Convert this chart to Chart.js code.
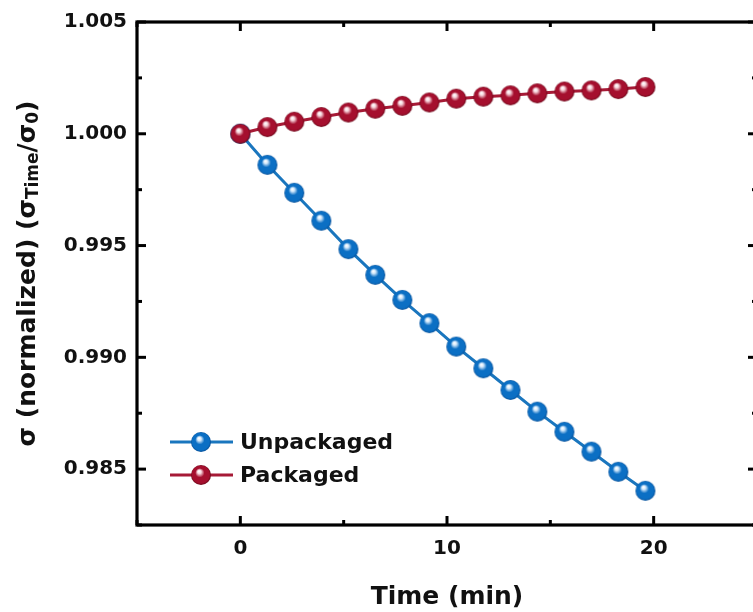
<!DOCTYPE html>
<html>
<head>
<meta charset="utf-8">
<script src="https://cdn.jsdelivr.net/npm/chart.js@4.4.1/dist/chart.umd.min.js"></script>
<style>
  html, body { margin: 0; padding: 0; background: #ffffff; overflow: hidden; }
  #wrap { position: absolute; left: 0; top: 0; width: 770px; height: 612px; }
</style>
</head>
<body>
<div id="wrap"><canvas id="c" width="770" height="612"></canvas></div>
<script>
// ---- data ----
const timeMin = [0, 1.31, 2.61, 3.92, 5.23, 6.53, 7.84, 9.15, 10.45, 11.76, 13.07, 14.37, 15.68, 16.99, 18.29, 19.6];
const unpackaged = [1.00000, 0.99861, 0.99736, 0.99611, 0.99484, 0.99369, 0.99257, 0.99153, 0.99048, 0.98951, 0.98854, 0.98757, 0.98667, 0.98578, 0.98488, 0.98403];
const packaged = [1.00000, 1.00030, 1.00054, 1.00075, 1.00095, 1.00112, 1.00125, 1.00140, 1.00157, 1.00166, 1.00172, 1.00181, 1.00189, 1.00194, 1.00200, 1.00209];
const seriesNames = ['Unpackaged', 'Packaged'];
const xMajorTicks = [0, 10, 20];
const xMinorTicks = [-5, 5, 15, 25];
const yMajorTicks = [0.985, 0.990, 0.995, 1.000, 1.005];
const yMinorTicks = [0.9825, 0.9875, 0.9925, 0.9975, 1.0025];
const xTitle = 'Time (min)';

const FONT = '"DejaVu Sans", "Liberation Sans", Arial, sans-serif';
const BLUE = { line: '#1A76BE', base: '#0B6FC4', dark: '#064E96', light: '#D2E8FB' };
const RED = { line: '#A61A36', base: '#A50F2E', dark: '#6A0819', light: '#F7D6DD' };

function sphere(col, r) {
  const s = Math.ceil(2 * r + 2);
  const cv = document.createElement('canvas');
  cv.width = s; cv.height = s;
  const g = cv.getContext('2d');
  const c = s / 2;
  const grad = g.createRadialGradient(c - r * 0.2, c - r * 0.38, r * 0.04, c, c, r);
  grad.addColorStop(0, '#ffffff');
  grad.addColorStop(0.16, col.light);
  grad.addColorStop(0.44, col.base);
  grad.addColorStop(0.85, col.base);
  grad.addColorStop(1, col.dark);
  g.fillStyle = grad;
  g.beginPath(); g.arc(c, c, r, 0, Math.PI * 2); g.fill();
  return cv;
}
const blueBall = sphere(BLUE, 10);
const redBall = sphere(RED, 10);

function pts(ys) { return timeMin.map((t, i) => ({ x: t, y: ys[i] })); }

const framePlugin = {
  id: 'frame',
  afterDraw(chart) {
    const { ctx, chartArea: a, scales } = chart;
    const xs = scales.x, ys = scales.y;
    ctx.save();
    ctx.strokeStyle = '#000'; ctx.lineWidth = 3; ctx.lineCap = 'butt';
    const tick = (x1, y1, x2, y2) => { ctx.beginPath(); ctx.moveTo(x1, y1); ctx.lineTo(x2, y2); ctx.stroke(); };
    xMajorTicks.forEach(v => { const p = xs.getPixelForValue(v); tick(p, a.bottom, p, a.bottom - 9); tick(p, a.top, p, a.top + 9); });
    xMinorTicks.forEach(v => { const p = xs.getPixelForValue(v); tick(p, a.bottom, p, a.bottom - 5); tick(p, a.top, p, a.top + 5); });
    yMajorTicks.forEach(v => { const p = ys.getPixelForValue(v); tick(a.left, p, a.left + 9, p); tick(a.right, p, a.right - 9, p); });
    yMinorTicks.forEach(v => { const p = ys.getPixelForValue(v); tick(a.left, p, a.left + 5, p); tick(a.right, p, a.right - 5, p); });
    ctx.lineWidth = 3.2;
    ctx.strokeRect(a.left, a.top, a.right - a.left, a.bottom - a.top);

    // legend
    const items = [
      { label: seriesNames[0], col: BLUE.line, ball: blueBall },
      { label: seriesNames[1], col: RED.line, ball: redBall }
    ];
    ctx.font = 'bold 22px ' + FONT;
    ctx.textBaseline = 'middle'; ctx.textAlign = 'left'; ctx.fillStyle = '#111';
    items.forEach((it, i) => {
      const y = a.top + 420 + i * 33;
      const x0 = a.left + 33;
      ctx.strokeStyle = it.col; ctx.lineWidth = 3;
      tick(x0, y, x0 + 63, y);
      ctx.drawImage(it.ball, x0 + 31 - it.ball.width / 2, y - it.ball.height / 2);
      ctx.fillStyle = '#111';
      ctx.fillText(it.label, x0 + 70, y + 1);
    });

    // y title with subscripts
    const cx = 28, cy = (a.top + a.bottom) / 2;
    const big = 'bold 25px ' + FONT, small = 'bold 17px ' + FONT;
    const parts = [
      { t: 'σ (normalized) (σ', f: big, dy: 0 },
      { t: 'Time', f: small, dy: 6 },
      { t: '/σ', f: big, dy: 0 },
      { t: '0', f: small, dy: 6 },
      { t: ')', f: big, dy: 0 }
    ];
    let total = 0;
    parts.forEach(p => { ctx.font = p.f; p.w = ctx.measureText(p.t).width; total += p.w; });
    ctx.translate(cx, cy);
    ctx.rotate(-Math.PI / 2);
    ctx.fillStyle = '#111'; ctx.textBaseline = 'middle'; ctx.textAlign = 'left';
    let px = -total / 2;
    parts.forEach(p => { ctx.font = p.f; ctx.fillText(p.t, px, p.dy); px += p.w; });
    ctx.restore();
  }
};

new Chart(document.getElementById('c'), {
  type: 'line',
  data: {
    datasets: [
      { label: seriesNames[0], data: pts(unpackaged), borderColor: BLUE.line, borderWidth: 3,
        pointStyle: blueBall, pointRadius: 10, order: 1 },
      { label: seriesNames[1], data: pts(packaged), borderColor: RED.line, borderWidth: 3,
        pointStyle: redBall, pointRadius: 10, order: 0 }
    ]
  },
  options: {
    responsive: false,
    animation: false,
    devicePixelRatio: 1,
    layout: { padding: { top: 22, right: 10, left: 0, bottom: 0 } },
    plugins: { legend: { display: false }, tooltip: { enabled: false } },
    events: [],
    scales: {
      x: {
        type: 'linear', min: -5, max: 25,
        grid: { display: false, drawTicks: false },
        border: { display: false },
        afterBuildTicks: s => { s.ticks = xMajorTicks.map(v => ({ value: v })); },
        afterFit: s => { s.height = 87; },
        ticks: { color: '#111', font: { family: FONT, size: 20, weight: 'bold' }, padding: 12, maxRotation: 0,
                 callback: v => String(v) },
        title: { display: true, text: xTitle, color: '#111', font: { family: FONT, size: 25, weight: 'bold' },
                 padding: { top: 0, bottom: 0 } }
      },
      y: {
        type: 'linear', min: 0.9825, max: 1.005,
        grid: { display: false, drawTicks: false },
        border: { display: false },
        afterBuildTicks: s => { s.ticks = yMajorTicks.map(v => ({ value: v })); },
        afterFit: s => { s.width = 137; },
        ticks: { color: '#111', font: { family: FONT, size: 20, weight: 'bold' }, padding: 10,
                 callback: v => Number(v).toFixed(3) }
      }
    }
  },
  plugins: [framePlugin]
});
</script>
</body>
</html>
